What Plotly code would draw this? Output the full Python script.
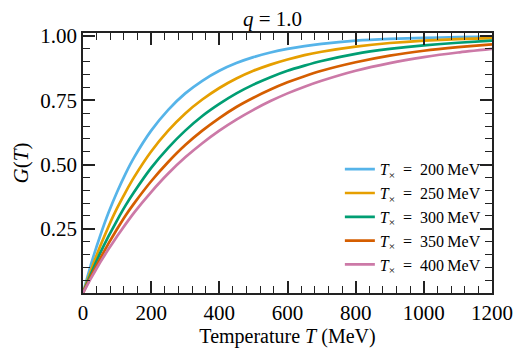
import plotly.graph_objects as go

# temperature grid (MeV) and G(T)
temperature = [0, 25, 50, 75, 100, 125, 150, 200, 250, 300, 350, 400, 450, 500, 550,
               600, 650, 700, 800, 900, 1000, 1100, 1200]

g_200 = [0, 0.118, 0.221, 0.313, 0.393, 0.465, 0.528, 0.632, 0.713, 0.777, 0.826, 0.865, 0.895, 0.918, 0.936,
         0.950, 0.961, 0.970, 0.982, 0.989, 0.993, 0.996, 0.998]
g_250 = [0, 0.095, 0.181, 0.259, 0.330, 0.393, 0.451, 0.551, 0.632, 0.699, 0.753, 0.798, 0.835, 0.865, 0.889,
         0.909, 0.926, 0.939, 0.959, 0.973, 0.982, 0.988, 0.992]
g_300 = [0, 0.080, 0.154, 0.221, 0.283, 0.341, 0.393, 0.487, 0.565, 0.632, 0.689, 0.736, 0.777, 0.811, 0.840,
         0.865, 0.885, 0.903, 0.931, 0.950, 0.964, 0.974, 0.982]
g_350 = [0, 0.069, 0.133, 0.193, 0.249, 0.302, 0.349, 0.435, 0.510, 0.576, 0.632, 0.681, 0.724, 0.760, 0.792,
         0.820, 0.844, 0.865, 0.898, 0.924, 0.943, 0.957, 0.968]
g_400 = [0, 0.061, 0.118, 0.171, 0.221, 0.268, 0.313, 0.393, 0.465, 0.528, 0.583, 0.632, 0.675, 0.713, 0.747,
         0.777, 0.803, 0.826, 0.865, 0.895, 0.918, 0.936, 0.950]

crossover = ["200", "250", "300", "350", "400"]
series = [g_200, g_250, g_300, g_350, g_400]
colors = ["#56B4E9", "#E69F00", "#009E73", "#D55E00", "#CC79A7"]

SERIF = "Liberation Serif, Times New Roman, DejaVu Serif, serif"

fig = go.Figure()

for tx, vals, col in zip(crossover, series, colors):
    fig.add_trace(go.Scatter(
        x=temperature,
        y=vals,
        mode="lines",
        line=dict(color=col, width=2.7, shape="spline", smoothing=0.5),
        name=f"<i>T</i><sub>×</sub>\u2002=\u2002{tx}\u2009MeV",
    ))

axis_common = dict(
    showgrid=False,
    zeroline=False,
    showline=True,
    linecolor="#222222",
    linewidth=1.5,
    mirror="allticks",
    ticks="inside",
    ticklen=12,
    tickwidth=1.5,
    tickcolor="#222222",
    tickfont=dict(family=SERIF, size=21, color="black"),
)

fig.update_layout(
    width=529,
    height=350,
    margin=dict(l=70, r=45, t=25, b=65),
    paper_bgcolor="white",
    plot_bgcolor="white",
    font=dict(family=SERIF, color="black"),
    title=dict(text="<i>q</i> = 1.0", x=0.5, xanchor="center", y=0.97, yanchor="middle",
               font=dict(family=SERIF, size=21, color="black")),
    xaxis=dict(
        axis_common,
        range=[0, 1200],
        tick0=0, dtick=200,
        minor=dict(ticks="inside", ticklen=7, tickwidth=1.2, tickcolor="#222222", dtick=40),
        title=dict(text="Temperature <i>T</i> (MeV)", font=dict(family=SERIF, size=20), standoff=2),
    ),
    yaxis=dict(
        axis_common,
        range=[0, 1.012],
        tickvals=[0.25, 0.5, 0.75, 1.0],
        ticktext=["0.25", "0.50", "0.75", "1.00"],
        minor=dict(ticks="inside", ticklen=7, tickwidth=1.2, tickcolor="#222222", dtick=0.05, tick0=0),
        title=dict(text="<i>G</i>(<i>T</i>)", font=dict(family=SERIF, size=21), standoff=6),
    ),
    legend=dict(
        x=0.985, y=0.045, xanchor="right", yanchor="bottom",
        bgcolor="rgba(255,255,255,0)",
        font=dict(family=SERIF, size=16, color="black"),
        tracegroupgap=0,
    ),
)

fig.write_html("out.html")
